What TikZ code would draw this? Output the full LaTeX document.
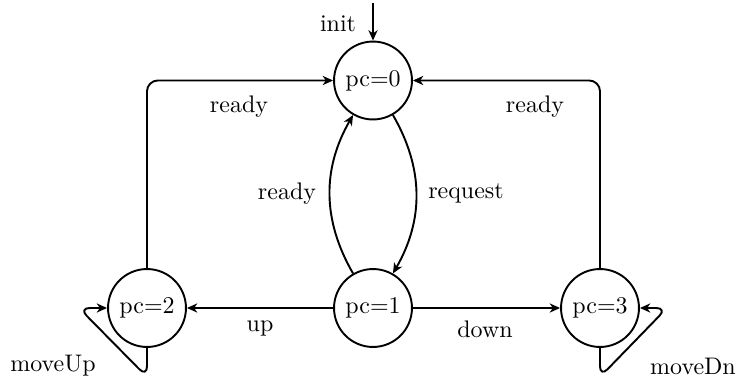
\documentclass[tikz,border=0pt]{standalone}
\usetikzlibrary{arrows.meta}
\begin{document}
\begin{tikzpicture}[x=0.417pt,y=-0.417pt,
  state/.style={circle,draw,line width=0.8pt,minimum size=32.5pt,inner sep=0pt},
  conn/.style={line width=0.8pt,-{Stealth[length=4.3pt,width=3.8pt,inset=1.3pt]}},
  lbl/.style={inner sep=0pt}]
\useasboundingbox (0,0) rectangle (739,376);
\node[state] (pc0) at (373,80.5) {pc=0};
\node[state] (pc1) at (373,308) {pc=1};
\node[state] (pc2) at (147,308) {pc=2};
\node[state] (pc3) at (600,308) {pc=3};
\coordinate (start) at (373,3);
\coordinate (lu) at (79,308);
\coordinate (ld) at (147,377);
\coordinate (ru) at (667,308);
\coordinate (rd) at (600,377);
% init
\draw[conn] (start) -- (pc0.north);
\node[lbl] (linit) at (338,24) {init};
% top bus lines
\draw[conn,rounded corners=4.5pt] (pc2.north) |- (pc0.west);
\node[lbl] (lready1) at (239,107) {ready};
\draw[conn,rounded corners=4.5pt] (pc3.north) |- (pc0.east);
\node[lbl] (lready2) at (535,107) {ready};
% middle pair
\draw[conn] (pc0) to[bend left=30] (pc1);
\node[lbl] (lreq) at (466,193) {request};
\draw[conn] (pc1) to[bend left=30] (pc0);
\node[lbl] (lready3) at (287,194) {ready};
% horizontal
\draw[conn] (pc1) -- (pc2);
\node[lbl] (lup) at (260,329) {up};
\draw[conn] (pc1) -- (pc3);
\node[lbl] (ldown) at (485,329) {down};
% self loops
\draw[conn,rounded corners=4.5pt] (pc2.south) -- (ld) -- (lu) -- (pc2.west);
\node[lbl] (lmu) at (53,366) {moveUp};
\draw[conn,rounded corners=4.5pt] (pc3.south) -- (rd) -- (ru) -- (pc3.east);
\node[lbl] (lmd) at (693,366) {moveDn};
\end{tikzpicture}
\end{document}
